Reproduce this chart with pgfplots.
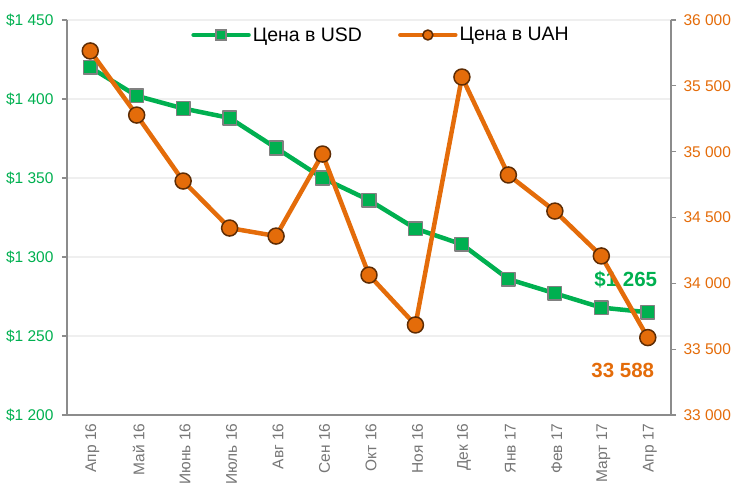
\documentclass[border=0pt]{standalone}
\usepackage{fontspec}
\setmainfont{Liberation Sans}
\usepackage{pgfplots}
\pgfplotsset{compat=1.18}

\definecolor{usdgreen}{HTML}{00B050}
\definecolor{uahorange}{HTML}{E46C0A}
\definecolor{circbrd}{HTML}{5E2C04}
\definecolor{sqbrd}{HTML}{808080}
\definecolor{axgray}{HTML}{8C8C8C}
\definecolor{lblgray}{HTML}{767676}
\definecolor{gridgray}{HTML}{EFEFEF}

\pgfplotsset{
  common/.style={
    scale only axis,
    width=604pt, height=395pt,
    xmin=-0.5, xmax=12.5,
    clip=false,
    scaled y ticks=false,
    tick align=outside,
    major tick length=5pt,
    minor tick length=5pt,
    tick style={axgray, line width=1.3pt},
    axis line style={axgray, line width=1.5pt},
    tick label style={font=\fontsize{15.5}{18}\selectfont},
    /pgf/number format/assume math mode=true,
    legend image code/.code={
      \draw[mark repeat=2, mark phase=2, line cap=round, #1, mark size=5pt]
        plot coordinates {(0pt,0pt) (27.5pt,0pt) (55pt,0pt)};},
  },
}

\begin{document}
\begin{tikzpicture}
% USD axis (left)
\begin{axis}[
  common,
  axis x line*=bottom,
  axis y line*=left,
  ymin=1200, ymax=1450,
  ytick={1200,1250,1300,1350,1400,1450},
  yticklabels={\$1 200,\$1 250,\$1 300,\$1 350,\$1 400,\$1 450},
  yticklabel style={usdgreen, xshift=-5pt},
  ymajorgrids=true,
  grid style={gridgray, line width=1.3pt},
  xtick={0,...,12},
  xticklabels={Апр 16,Май 16,Июнь 16,Июль 16,Авг 16,Сен 16,Окт 16,Ноя 16,Дек 16,Янв 17,Фев 17,Март 17,Апр 17},
  xticklabel style={rotate=90, anchor=east, lblgray, yshift=-2pt},
  xtick style={draw=none},
  minor xtick={-0.5,0.5,...,12.5},
  minor x tick style={axgray, line width=1.3pt},
]
\addplot[usdgreen, line width=4.5pt, line join=round,
  mark=square*, mark size=6.8pt,
  mark options={fill=usdgreen, draw=sqbrd, line width=1.5pt}]
  coordinates {
  (0,1420) (1,1402) (2,1394) (3,1388) (4,1369) (5,1350) (6,1336)
  (7,1318) (8,1308) (9,1286) (10,1277) (11,1268) (12,1265)
};
\node[usdgreen, font=\bfseries\fontsize{20.5}{24}\selectfont]
  at (axis cs:12,1265) [xshift=-22pt, yshift=33pt] {\$1 265};
\end{axis}

% UAH axis (right)
\begin{axis}[
  common,
  axis x line=none,
  axis y line*=right,
  ymin=33000, ymax=36000,
  ytick={33000,33500,34000,34500,35000,35500,36000},
  yticklabels={33 000,33 500,34 000,34 500,35 000,35 500,36 000},
  yticklabel style={uahorange, xshift=4pt},
  legend columns=2,
  legend style={draw=none, fill=none, at={(0.52,0.962)}, anchor=center,
    font=\fontsize{19.5}{22}\selectfont, text=black,
    /tikz/every even column/.append style={column sep=34pt},
    legend cell align=left},
]
\addlegendimage{usdgreen, line width=4.5pt, mark=square*,
  mark options={fill=usdgreen, draw=sqbrd, line width=1.3pt}}
\addlegendentry{Цена в USD}
\addplot[uahorange, line width=4.5pt, line join=round,
  mark=*, mark size=8pt,
  mark options={fill=uahorange, draw=circbrd, line width=1.5pt}]
  coordinates {
  (0,35765) (1,35278) (2,34777) (3,34420) (4,34359) (5,34982) (6,34063)
  (7,33684) (8,35567) (9,34823) (10,34549) (11,34208) (12,33588)
};
\addlegendentry{Цена в UAH}
\node[uahorange, font=\bfseries\fontsize{20.5}{24}\selectfont]
  at (axis cs:12,33588) [xshift=-25pt, yshift=-33pt] {33 588};
\end{axis}

\pgfresetboundingbox
\path (-67pt,-68pt) rectangle (668pt,415pt);
\end{tikzpicture}
\end{document}
